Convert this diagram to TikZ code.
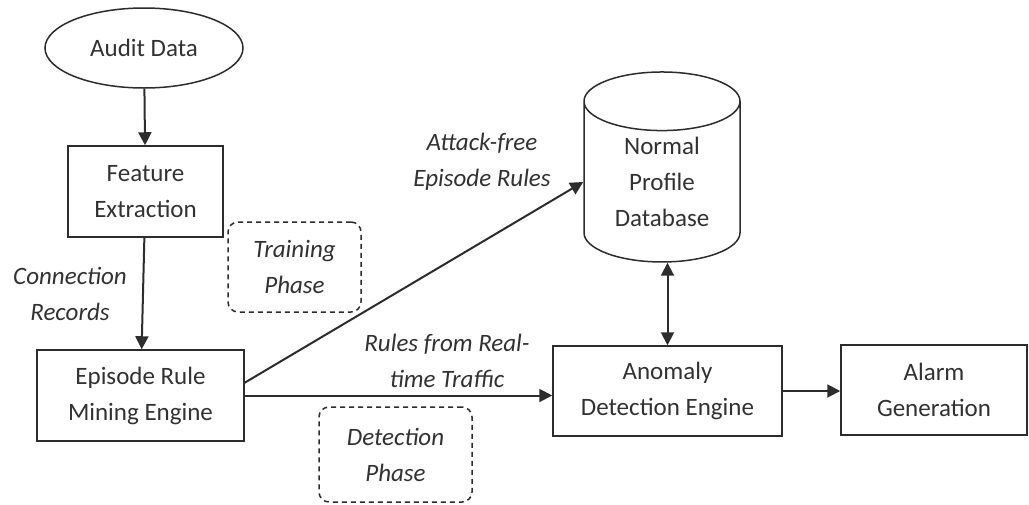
\documentclass[tikz,border=0pt]{standalone}
\usepackage{fontspec}
\setmainfont{Carlito}
\usetikzlibrary{arrows.meta,shapes.geometric}
\definecolor{IDline}{RGB}{45,45,45}
\definecolor{IDtext}{RGB}{50,50,50}
\newcommand{\idfont}{\fontsize{12.5}{18}\selectfont}
\tikzset{
  block/.style={draw=IDline,line width=0.75pt,text=IDtext,align=center,
                inner sep=0pt,font=\idfont},
  phase/.style={draw=IDline,line width=0.75pt,dash pattern=on 2.5pt off 2pt,
                rounded corners=5pt,text=IDtext,align=center,inner sep=0pt,
                font=\idfont\itshape},
  lbl/.style={text=IDtext,align=center,inner sep=0pt,font=\idfont\itshape},
  fl/.style={-{Triangle[length=6.5pt,width=6.5pt]},line width=1pt,draw=IDline},
  flb/.style={{Triangle[length=6.5pt,width=6.5pt]}-{Triangle[length=6.5pt,width=6.5pt]},
              line width=1pt,draw=IDline}
}
\begin{document}
\begin{tikzpicture}[x=0.5pt,y=-0.5pt]
  \useasboundingbox (0,0) rectangle (1029,504);
  \node[block,ellipse,minimum width=99pt,minimum height=40pt] (audit) at (144,48) {Audit Data};
  \node[block,minimum width=77.5pt,minimum height=45.5pt] (feat) at (145.5,191.5) {Feature\\Extraction};
  \node[block,minimum width=103.5pt,minimum height=45.5pt] (mine) at (140.5,395.5) {Episode Rule\\Mining Engine};
  \node[block,minimum width=114.5pt,minimum height=45pt] (anom) at (667.5,391) {Anomaly\\Detection Engine};
  \node[block,minimum width=93pt,minimum height=45pt] (alarm) at (934,390) {Alarm\\Generation};
  \node[block,cylinder,shape border rotate=90,aspect=0.62,
        minimum width=78pt,minimum height=95pt] (db) at (662,182) {Normal\\Profile\\Database};
  \node[phase,minimum width=66.5pt,minimum height=45pt] (train) at (294.5,267) {Training\\Phase};
  \node[phase,minimum width=76.5pt,minimum height=47.5pt] (detect) at (395.5,454.5) {Detection\\Phase};
  % edge labels
  \node[lbl] (conn) at (70,294) {Connection\\Records};
  \node[lbl] (afree) at (482,162) {Attack-free\\Episode Rules};
  \node[lbl] (rt) at (447,361) {Rules from Real-\\time Traffic};
  \draw[fl] (audit) -- (feat);
  \draw[fl] (feat) -- (mine);
  \draw[fl] (mine.7) -- (db.west);
  \draw[fl] (mine.east) -- (mine.east -| anom.west);
  \draw[flb] (anom.north |- db.south) -- (anom.north);
  \draw[fl] (anom.east) -- (anom.east -| alarm.west);
\end{tikzpicture}
\end{document}
